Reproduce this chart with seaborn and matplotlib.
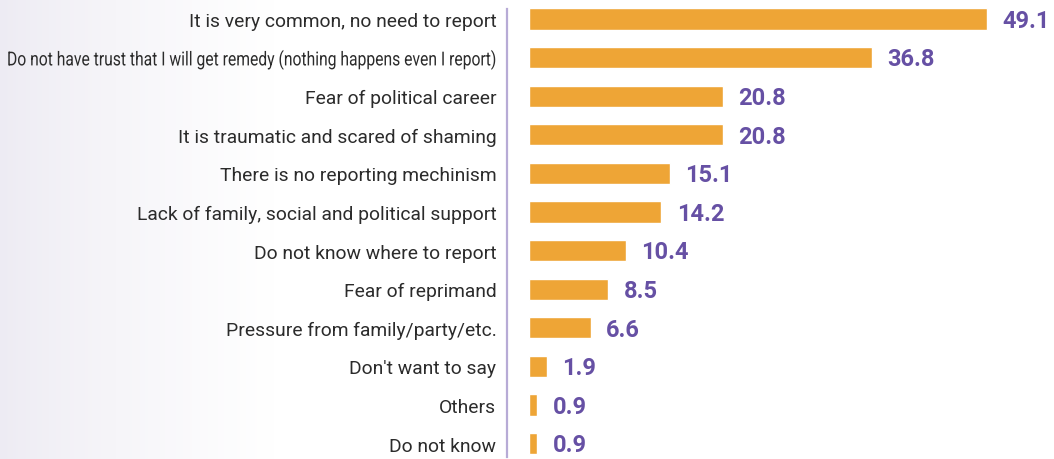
import matplotlib
matplotlib.use("Agg")
import matplotlib.pyplot as plt
import seaborn as sns
import pandas as pd
import numpy as np
from matplotlib.patheffects import AbstractPathEffect
from matplotlib.transforms import Affine2D
from matplotlib.colors import to_rgb

reasons = [
    "It is very common, no need to report",
    "Do not have trust that I will get remedy (nothing happens even I report)",
    "Fear of political career",
    "It is traumatic and scared of shaming",
    "There is no reporting mechinism",
    "Lack of family, social and political support",
    "Do not know where to report",
    "Fear of reprimand",
    "Pressure from family/party/etc.",
    "Don't want to say",
    "Others",
    "Do not know",
]
shares = [49.1, 36.8, 20.8, 20.8, 15.1, 14.2, 10.4, 8.5, 6.6, 1.9, 0.9, 0.9]

df = pd.DataFrame({"reason": reasons, "share": shares})

sns.set_theme(style="white")
plt.rcParams["font.family"] = ["Roboto", "DejaVu Sans"]

BAR = "#EEA536"
VALUE = "#6650A4"
TEXT = "#2B2B2B"
RULE = "#B7ABD6"
SHADE = "#EDEBF3"
LABEL_SIZE = 13.9


class VerticalStretch(AbstractPathEffect):
    """Stretch glyphs vertically around a fixed y (display pixels)."""

    def __init__(self, factor, y0):
        super().__init__()
        self.factor = factor
        self.y0 = y0

    def draw_path(self, renderer, gc, tpath, affine, rgbFace=None):
        stretch = (Affine2D().translate(0, -self.y0)
                   .scale(1, self.factor).translate(0, self.y0))
        renderer.draw_path(gc, tpath, affine + stretch, rgbFace)


fig = plt.figure(figsize=(10.54, 4.6), dpi=100)

# soft lavender wash fading into white on the left side
bg = fig.add_axes([0, 0, 1, 1], zorder=-5)
xs = np.linspace(0, 1, 1054)
t = np.clip(xs / 0.26, 0, 1) ** 0.8
c0 = np.array(to_rgb(SHADE))
row = c0[None, :] * (1 - t[:, None]) + np.ones(3)[None, :] * t[:, None]
bg.imshow(row[None, :, :], aspect="auto", extent=(0, 1, 0, 1))
bg.set_axis_off()

ax = fig.add_axes([529 / 1054, 0, 525 / 1054, 1])
ax.patch.set_alpha(0)

sns.barplot(data=df, y="reason", x="share", orient="h", color=BAR,
            saturation=1, width=0.55, ax=ax)

ax.set_xlim(0, 56.3)
ax.set_ylim(11.4, -0.518)
ax.set_xlabel("")
ax.set_ylabel("")
ax.set_xticks([])

for s in ["top", "right", "bottom"]:
    ax.spines[s].set_visible(False)
ax.spines["left"].set_position(("outward", 16))
ax.spines["left"].set_bounds(-0.26, 11.35)
ax.spines["left"].set_color(RULE)
ax.spines["left"].set_linewidth(1.6)

ax.tick_params(axis="y", length=0, pad=7.5, labelsize=LABEL_SIZE, labelcolor=TEXT)

# a label too long for the margin is set narrower (smaller size) and then
# stretched back to the full letter height, giving a condensed look
fig.canvas.draw()
renderer = fig.canvas.get_renderer()
max_w = 489
for lab in ax.get_yticklabels():
    ext = lab.get_window_extent(renderer)
    if ext.width > max_w:
        f = max_w / ext.width
        lab.set_fontsize(LABEL_SIZE * f)
        fig.canvas.draw()
        ext2 = lab.get_window_extent(renderer)
        lab.set_path_effects([VerticalStretch(1 / f, (ext2.y0 + ext2.y1) / 2)])

for i, v in enumerate(shares):
    ax.annotate(f"{v:.1f}", xy=(v, i), xytext=(11, -1), textcoords="offset points",
                va="center", ha="left", color=VALUE, fontsize=17,
                fontweight="bold")

fig.savefig("out.png", dpi=100)
